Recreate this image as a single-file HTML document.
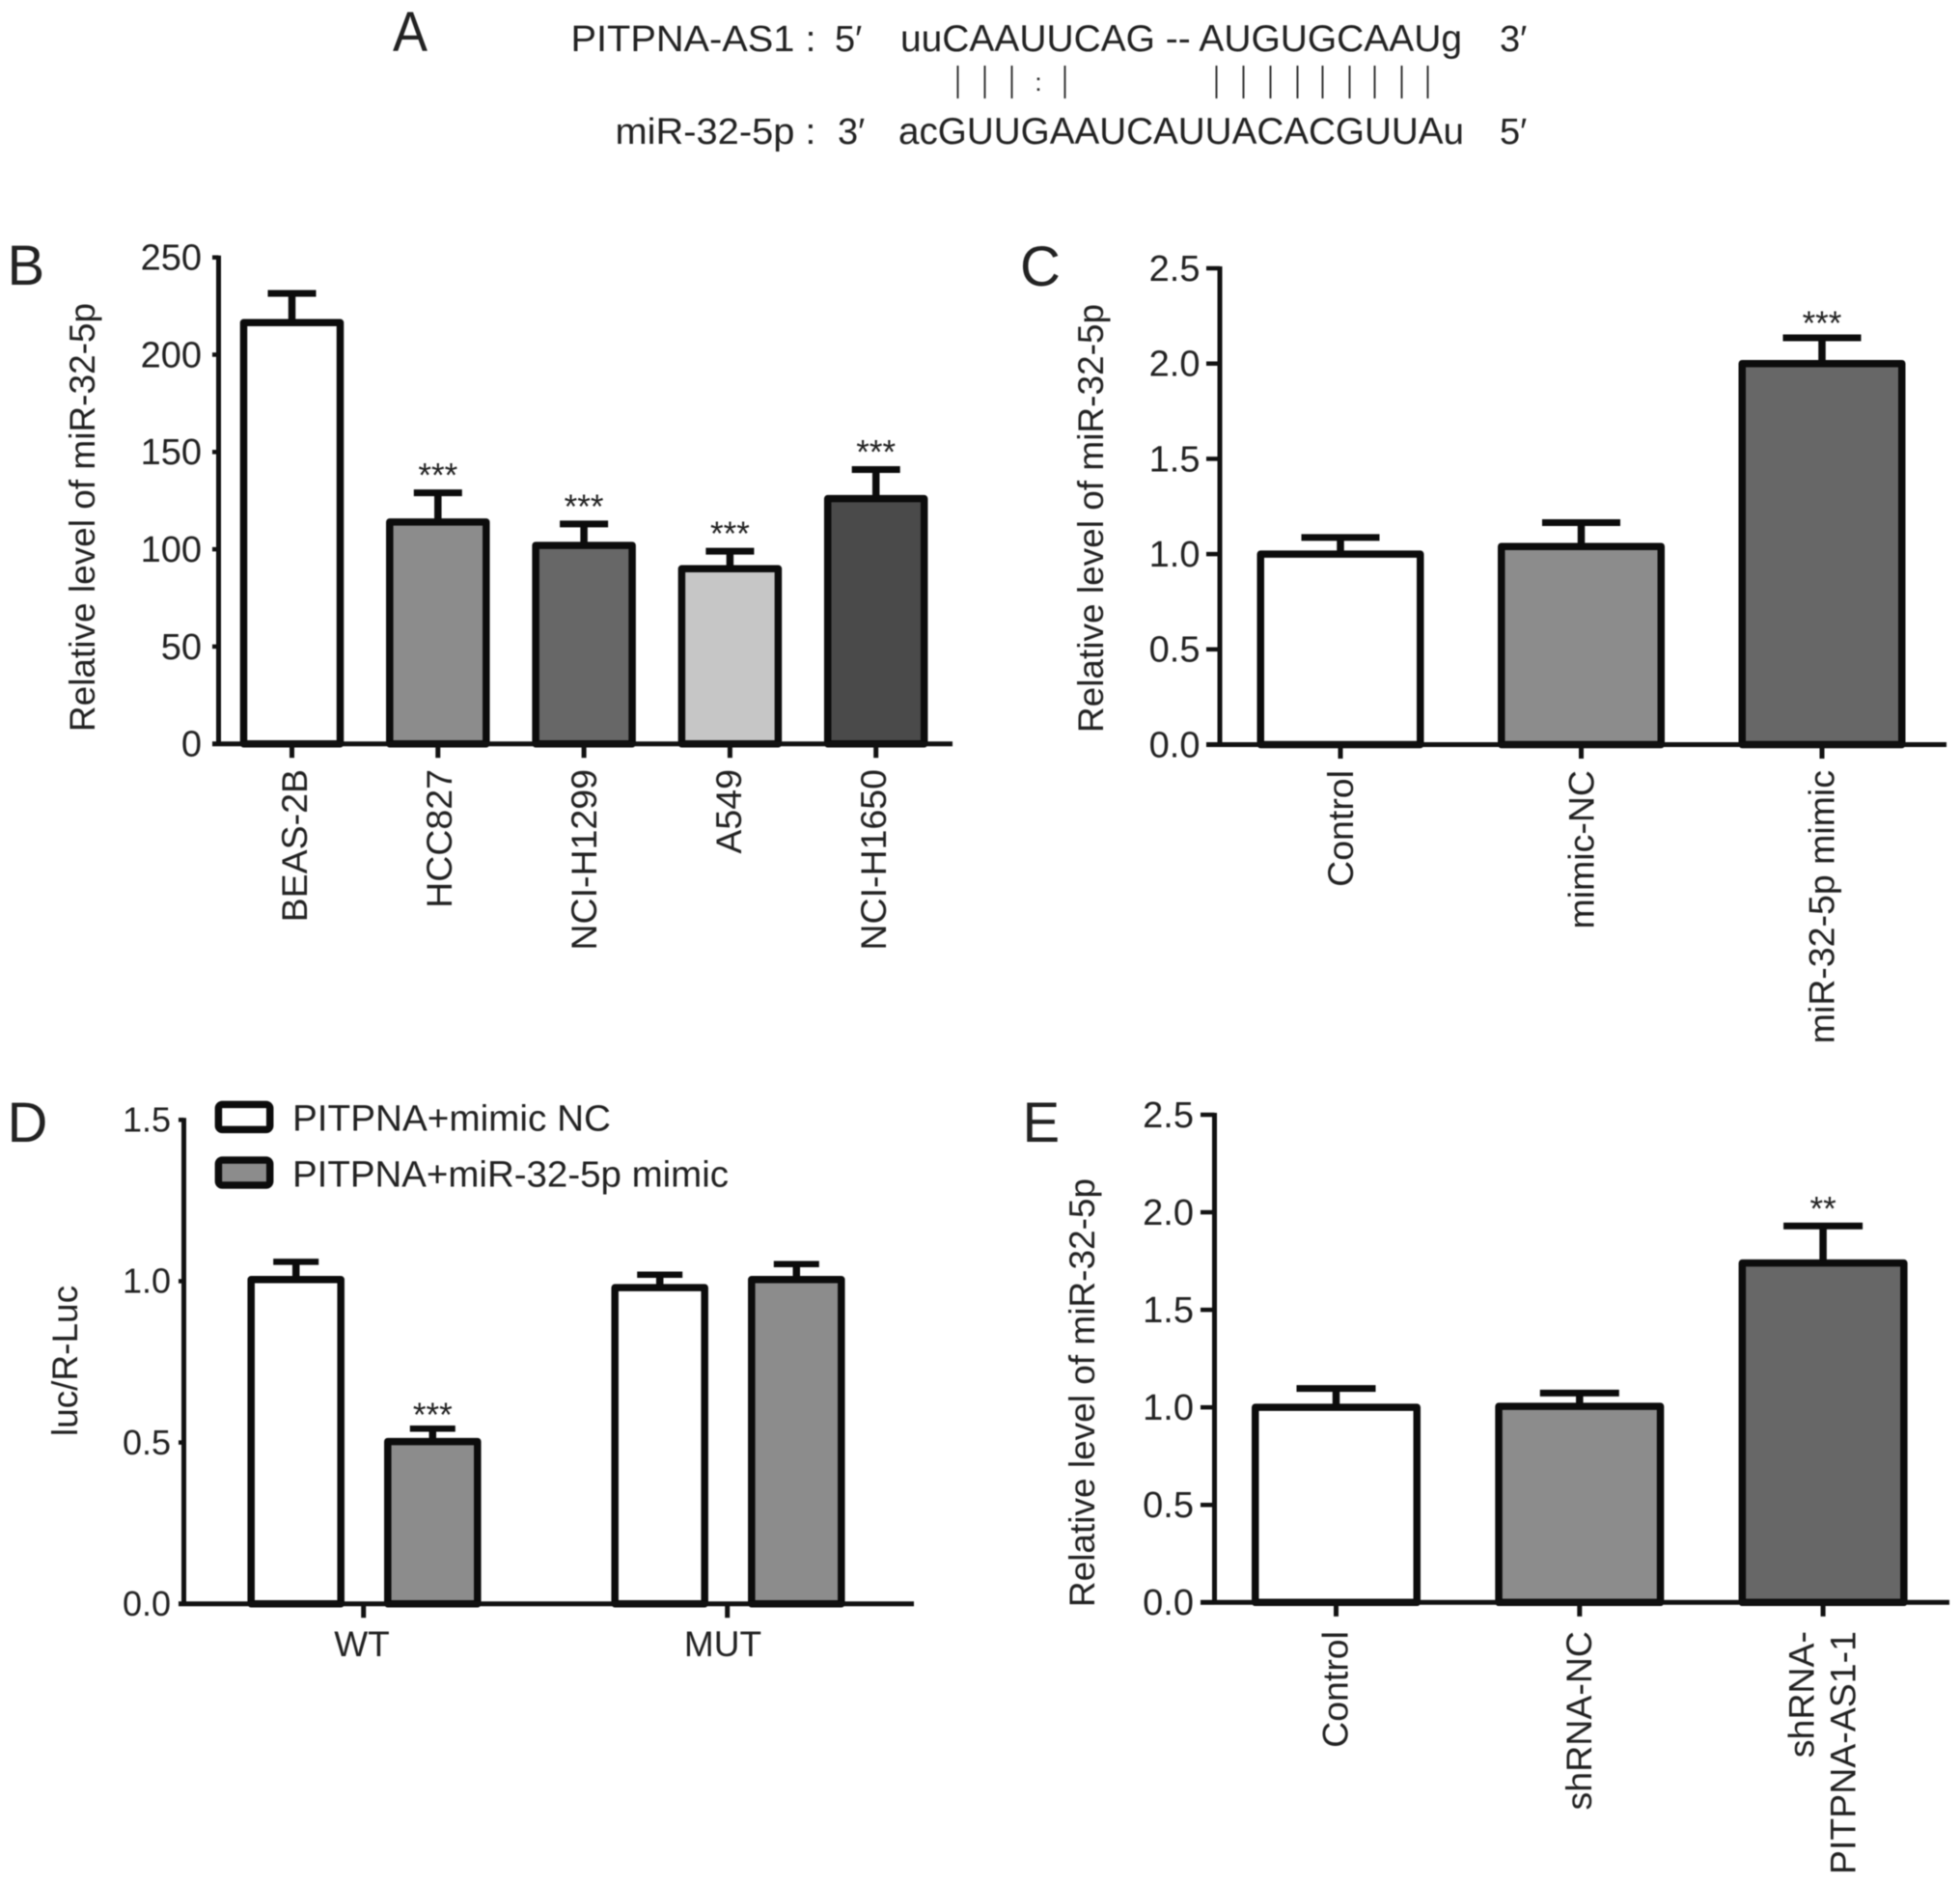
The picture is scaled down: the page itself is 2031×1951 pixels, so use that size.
<!DOCTYPE html>
<html lang="en">
<head>
<meta charset="utf-8">
<title>miR-32-5p figure</title>
<style>
html,body{margin:0;padding:0;background:#fff;}
svg{display:block;filter:blur(0.6px);}
text{font-family:"Liberation Sans",Arial,sans-serif;fill:#222;}
</style>
</head>
<body>
<svg id="figure" xmlns="http://www.w3.org/2000/svg" width="2031" height="1951" viewBox="0 0 2031 1951">
  <rect x="0" y="0" width="2031" height="1951" fill="#fff"/>
  <g>
    <text x="407" y="53" font-size="58" textLength="36" lengthAdjust="spacingAndGlyphs">A</text>
    <text x="591.5" y="53" font-size="38" textLength="254" lengthAdjust="spacingAndGlyphs">PITPNA-AS1 :</text>
    <text x="865" y="53" font-size="38">5′</text>
    <text x="933" y="53" font-size="39" textLength="582" lengthAdjust="spacingAndGlyphs">uuCAAUUCAG -- AUGUGCAAUg</text>
    <text x="1554" y="53" font-size="38">3′</text>
    <text x="637.5" y="149" font-size="38" textLength="208" lengthAdjust="spacingAndGlyphs">miR-32-5p :</text>
    <text x="868" y="149" font-size="38">3′</text>
    <text x="931" y="149" font-size="39" textLength="586" lengthAdjust="spacingAndGlyphs">acGUUGAAUCAUUACACGUUAu</text>
    <text x="1554" y="149" font-size="38">5′</text>
    <g stroke="#333" stroke-width="2">
      <line x1="992.5" x2="992.5" y1="68" y2="102"/>
      <line x1="1020.5" x2="1020.5" y1="68" y2="102"/>
      <line x1="1048.5" x2="1048.5" y1="68" y2="102"/>
      <line x1="1103.5" x2="1103.5" y1="68" y2="102"/>
      <line x1="1260.5" x2="1260.5" y1="68" y2="102"/>
      <line x1="1288.5" x2="1288.5" y1="68" y2="102"/>
      <line x1="1316.5" x2="1316.5" y1="68" y2="102"/>
      <line x1="1344.5" x2="1344.5" y1="68" y2="102"/>
      <line x1="1370.5" x2="1370.5" y1="68" y2="102"/>
      <line x1="1398.5" x2="1398.5" y1="68" y2="102"/>
      <line x1="1424.5" x2="1424.5" y1="68" y2="102"/>
      <line x1="1452.5" x2="1452.5" y1="68" y2="102"/>
      <line x1="1479.5" x2="1479.5" y1="68" y2="102"/>
    </g>
    <text x="1076" y="94" font-size="26" text-anchor="middle">:</text>
  </g>
</svg>
<script>
/* Panel B data */
var bCategories = ['BEAS-2B', 'HCC827', 'NCI-H1299', 'A549', 'NCI-H1650'];
var bValues = [216.5, 114, 102, 90, 126];
var bErrors = [15, 15, 11, 9, 15];
var bStars = ['', '***', '***', '***', '***'];
var bFills = ['#ffffff', '#8c8c8c', '#676767', '#c6c6c6', '#4a4a4a'];
var bTicks = [0, 50, 100, 150, 200, 250];
var bTickLabels = ['0', '50', '100', '150', '200', '250'];

/* Panel C data */
var cCategories = ['Control', 'mimic-NC', 'miR-32-5p mimic'];
var cValues = [1.0, 1.04, 2.0];
var cErrors = [0.087, 0.125, 0.135];
var cStars = ['', '', '***'];
var cFills = ['#ffffff', '#8c8c8c', '#676767'];
var cTicks = [0, 0.5, 1, 1.5, 2, 2.5];
var cTickLabels = ['0.0', '0.5', '1.0', '1.5', '2.0', '2.5'];

/* Panel D data */
var dGroups = ['WT', 'MUT'];
var dSeriesNames = ['PITPNA+mimic NC', 'PITPNA+miR-32-5p mimic'];
var dNcValues = [1.005, 0.98];
var dNcErrors = [0.055, 0.04];
var dMimicValues = [0.503, 1.005];
var dMimicErrors = [0.04, 0.048];
var dMimicStars = ['***', ''];
var dTicks = [0, 0.5, 1, 1.5];
var dTickLabels = ['0.0', '0.5', '1.0', '1.5'];

/* Panel E data */
var eCategories = [['Control'], ['shRNA-NC'], ['shRNA-', 'PITPNA-AS1-1']];
var eValues = [1.0, 1.005, 1.74];
var eErrors = [0.097, 0.068, 0.19];
var eStars = ['', '', '**'];
var eFills = ['#ffffff', '#8c8c8c', '#676767'];
var eTicks = [0, 0.5, 1, 1.5, 2, 2.5];
var eTickLabels = ['0.0', '0.5', '1.0', '1.5', '2.0', '2.5'];

var NS = 'http://www.w3.org/2000/svg';
var svg = document.getElementById('figure');

function mk(parent, tag, props, txt) {
  var el = document.createElementNS(NS, tag);
  for (var k in props) { el.setAttribute(k, props[k]); }
  if (txt !== undefined) { el.textContent = txt; }
  parent.appendChild(el);
  return el;
}

function scaleY(g) {
  return function (v) { return g.baseY - (v / g.maxV) * (g.baseY - g.topY); };
}

function drawAxes(root, g, ticks, labels, y) {
  var el;
  el = mk(root, 'line', {x1: g.axisX, x2: g.axisX, y1: g.topY - 2, y2: g.baseY, stroke: '#111', 'stroke-width': 5});
  
  
  el = mk(root, 'line', {x1: g.baseL, x2: g.baseR, y1: g.baseY, y2: g.baseY, stroke: '#111', 'stroke-width': 5});
  
  
  ticks.forEach(function (t, i) {
    var ty = y(t);
    var tick = mk(root, 'line', {x1: g.axisX - g.tickLen, x2: g.axisX, y1: ty, y2: ty, stroke: '#111', 'stroke-width': 4.5});
    
    
    var lab = mk(root, 'text', {x: g.yLabelRight, y: ty + g.tickFont * 0.34, 'font-size': g.tickFont, 'text-anchor': 'end'}, labels[i]);
    
    
  });
  el = mk(root, 'text', {
    x: 0, y: 0, 'font-size': g.titleFont, 'text-anchor': 'middle',
    transform: 'translate(' + g.titleX + ',' + g.titleY + ') rotate(-90)'
  }, g.title);
  
  
  el = mk(root, 'text', {x: g.letterX, y: g.letterY, 'font-size': g.letterFont}, g.letter);
  
  
}

function drawBar(root, cx, value, err, fill, star, g, y) {
  var top = y(value), capY = y(value + err), el;
  el = mk(root, 'line', {x1: cx, x2: cx, y1: capY, y2: top, stroke: '#0c0c0c', 'stroke-width': g.barStroke});
  
  
  el = mk(root, 'line', {x1: cx - g.capW / 2, x2: cx + g.capW / 2, y1: capY, y2: capY, stroke: '#0c0c0c', 'stroke-width': g.capStroke});
  
  
  el = mk(root, 'rect', {
    x: cx - g.barW / 2, y: top, width: g.barW, height: g.baseY - top,
    fill: fill, stroke: '#0c0c0c', 'stroke-width': g.barStroke, 'stroke-linejoin': 'round'
  });
  
  
  if (star) {
    el = mk(root, 'text', {x: cx, y: capY - g.starGap + 20, 'font-size': 35, 'text-anchor': 'middle'}, star);
    
    
  }
}

function drawCategoryTick(root, cx, g) {
  var el = mk(root, 'line', {x1: cx, x2: cx, y1: g.baseY, y2: g.baseY + g.xTickLen, stroke: '#111', 'stroke-width': 5});
  
  
}

function drawRotatedLabel(root, baselineX, lines, g) {
  lines.forEach(function (line, i) {
    var off = (i - (lines.length - 1) / 2) * 43;
    var el = mk(root, 'text', {
      x: 0, y: 0, 'font-size': g.xFont, 'text-anchor': 'end',
      transform: 'translate(' + (baselineX + off) + ',' + g.xLabelTop + ') rotate(-90)'
    }, line);
    
    
  });
}

function drawSimple(name, g, categories, values, errors, fills, stars, ticks, labels) {
  var root = mk(svg, 'g', {});
  
  
  var y = scaleY(g);
  categories.forEach(function (cat, i) {
    var cx = g.firstX + i * g.stepX;
    drawBar(root, cx, values[i], errors[i], fills[i], stars[i], g, y);
    drawCategoryTick(root, cx, g);
    drawRotatedLabel(root, g.labelFirst + i * g.labelStep, Array.isArray(cat) ? cat : [cat], g);
  });
  drawAxes(root, g, ticks, labels, y);
}

var common = {tickFont: 38, titleFont: 37, xFont: 37.5, barStroke: 7.5, capStroke: 7, xTickLen: 14.5, letterFont: 58, title: 'Relative level of miR-32-5p'};

function withCommon(o) {
  var r = {};
  for (var k in common) { r[k] = common[k]; }
  for (var j in o) { r[j] = o[j]; }
  return r;
}

drawSimple('panel-b', withCommon({
  axisX: 226.5, topY: 266.7, baseY: 770.7, maxV: 250, baseL: 220, baseR: 987, tickLen: 6.5,
  yLabelRight: 209, firstX: 302.5, stepX: 151.3, barW: 100, capW: 50, starGap: 26,
  labelFirst: 318, labelStep: 150, xLabelTop: 797, titleX: 98, titleY: 536, letter: 'B', letterX: 7.5, letterY: 295
}), bCategories, bValues, bErrors, bFills, bStars, bTicks, bTickLabels);

drawSimple('panel-c', withCommon({
  axisX: 1264, topY: 278, baseY: 771.5, maxV: 2.5, baseL: 1250, baseR: 2017, tickLen: 14,
  yLabelRight: 1243.5, firstX: 1389, stepX: 249.5, barW: 165.5, capW: 81, starGap: 23,
  labelFirst: 1402, labelStep: 249.3, xLabelTop: 798, titleX: 1143, titleY: 537, letter: 'C', letterX: 1057, letterY: 296
}), cCategories, cValues, cErrors, cFills, cStars, cTicks, cTickLabels);

drawSimple('panel-e', withCommon({
  axisX: 1258.5, topY: 1155, baseY: 1660.3, maxV: 2.5, baseL: 1244, baseR: 2020, tickLen: 14.5,
  yLabelRight: 1237, firstX: 1384.5, stepX: 252.3, barW: 167.5, capW: 82, starGap: 25.5,
  labelFirst: 1396.7, labelStep: 252.2, xLabelTop: 1690, titleX: 1134, titleY: 1443, letter: 'E', letterX: 1059.5, letterY: 1183
}), eCategories, eValues, eErrors, eFills, eStars, eTicks, eTickLabels);

/* Panel D: grouped bars with legend */
(function () {
  var g = withCommon({
    axisX: 190.5, topY: 1160.3, baseY: 1661.7, maxV: 1.5, baseL: 185, baseR: 947, tickLen: 5.5,
    yLabelRight: 177, tickFont: 36, barW: 93, capW: 47, capStroke: 6.5, barStroke: 7.5, starGap: 22,
    titleX: 80, titleY: 1410, title: 'luc/R-Luc', letter: 'D', letterX: 7.5, letterY: 1183
  });
  var firstGroup = 376.7, groupStep = 377, offsetA = -70, offsetB = 71.6;
  var labelFirst = 375, labelStep = 374;
  var root = mk(svg, 'g', {});
  
  
  var y = scaleY(g);
  dGroups.forEach(function (name, i) {
    var cx = firstGroup + i * groupStep;
    drawBar(root, cx + offsetA, dNcValues[i], dNcErrors[i], '#ffffff', '', g, y);
    drawBar(root, cx + offsetB, dMimicValues[i], dMimicErrors[i], '#8c8c8c', dMimicStars[i], g, y);
    drawCategoryTick(root, cx, g);
    var lab = mk(root, 'text', {x: labelFirst + i * labelStep, y: 1716, 'font-size': 37, 'text-anchor': 'middle'}, name);
    
    
  });
  drawAxes(root, g, dTicks, dTickLabels, y);

  var legendFills = ['#ffffff', '#8c8c8c'];
  var legendWidths = [330, 452];
  dSeriesNames.forEach(function (name, i) {
    var top = 1144.4 + i * 57.6;
    var swatch = mk(root, 'rect', {x: 226.4, y: top, width: 53.3, height: 26, rx: 4, fill: legendFills[i], stroke: '#0c0c0c', 'stroke-width': 7.5});
    
    
    var t = mk(root, 'text', {x: 303, y: top + 27.3, 'font-size': 38, textLength: legendWidths[i], lengthAdjust: 'spacingAndGlyphs'}, name);
    
    
  });
})();
</script>
</body>
</html>
